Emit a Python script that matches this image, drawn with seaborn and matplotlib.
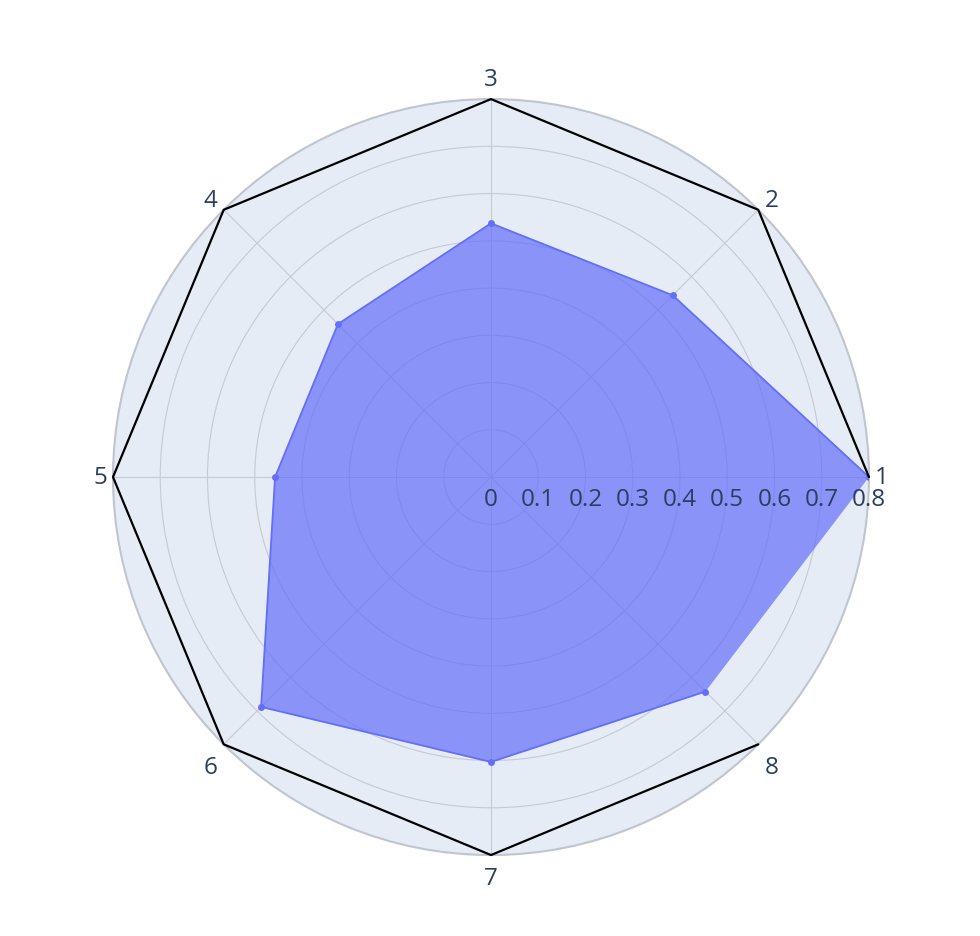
import numpy as np
import pandas as pd
import matplotlib
matplotlib.use("Agg")
import matplotlib.pyplot as plt
import matplotlib.transforms as mtransforms
import seaborn as sns

# Dados
categorias = ['1', '2', '3', '4', '5', '6', '7', '8']
valores = [0.8, 0.544, 0.537, 0.458, 0.457, 0.688, 0.603, 0.642]
limite = [0.8, 0.8, 0.8, 0.8, 0.8, 0.8, 0.8, 0.8]
ticks_raio = [0, 0.1, 0.2, 0.3, 0.4, 0.5, 0.6, 0.7, 0.8]
rotulos_raio = ['0', '0.1', '0.2', '0.3', '0.4', '0.5', '0.6', '0.7', '0.8']

sns.set_style("white")
plt.rcParams['font.family'] = ['Open Sans', 'DejaVu Sans']

cor_texto = '#2a3f5f'
cor_fundo = '#E5ECF6'
cor_grade = '#c5cad3'
azul = '#636EFA'

angulos = np.deg2rad(np.arange(len(categorias)) * 360 / len(categorias))
df = pd.DataFrame({
    'theta': np.append(angulos, angulos[0]),
    'r': valores + valores[:1],
    'lim': limite + limite[:1],
})

fig = plt.figure(figsize=(9.8, 9.37), dpi=100)
ax = fig.add_axes([0.1153, 0.0864, 0.7714, 0.8068], projection='polar')
ax.set_facecolor(cor_fundo)
ax.set_theta_zero_location('E')
ax.set_ylim(0, 0.8)

# Grade
ax.set_xticks(angulos)
ax.set_xticklabels([])
ax.set_yticks(ticks_raio)
ax.set_yticklabels([])
ax.grid(True, color=cor_grade, linewidth=0.8)
ax.spines['polar'].set_color('#c0c5cf')
ax.spines['polar'].set_linewidth(1.5)

# Área preenchida
ax.fill(df['theta'], df['r'], color=azul, alpha=0.7, linewidth=0, zorder=2)
sns.lineplot(data=df, x='theta', y='r', sort=False, ax=ax, color=azul,
             linewidth=1.3, marker='o', markersize=5, markeredgewidth=0, zorder=3)

# Octógono preto
sns.lineplot(data=df, x='theta', y='lim', sort=False, ax=ax, color='black',
             linewidth=1.6, zorder=4, clip_on=False)

# Rótulos angulares (deslocados da borda como no plotly)
rmax = ticks_raio[-1]
for th, lab in zip(angulos, categorias):
    c, s = np.cos(th), np.sin(th)
    dx = 13 * np.sign(round(c, 3))
    dy = 20 * s * s if s >= 0 else -23 * np.sign(round(-s, 3))
    tr = mtransforms.offset_copy(ax.transData, fig=fig, x=dx, y=dy, units='dots')
    ax.text(th, rmax, lab, transform=tr, ha='center', va='center', fontsize=17.5,
            color=cor_texto, clip_on=False)

# Rótulos do eixo radial
desloc = mtransforms.offset_copy(ax.transData, fig=fig, x=0, y=-22, units='dots')
for t, lab in zip(ticks_raio, rotulos_raio):
    ax.text(0, t, lab, transform=desloc, ha='center', va='center',
            fontsize=17.5, color=cor_texto, zorder=5)

ax.set_xlabel('')
ax.set_ylabel('')
fig.savefig('out.png', dpi=100, facecolor='white')
